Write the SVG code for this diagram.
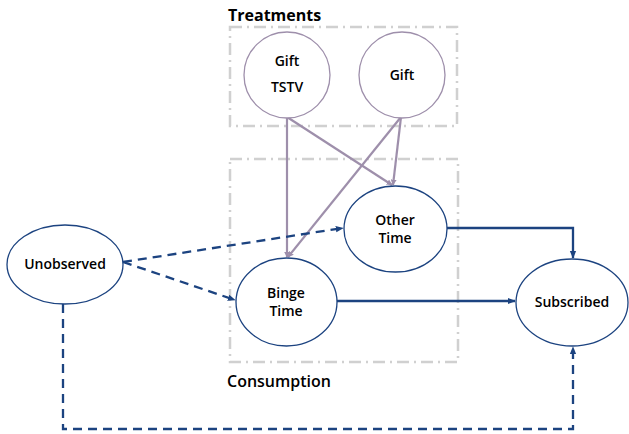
<svg xmlns="http://www.w3.org/2000/svg" width="629" height="434" viewBox="0 0 629 434">
<defs>
<marker id="ap" viewBox="0 0 10 10" refX="9" refY="5" markerWidth="6" markerHeight="6" markerUnits="userSpaceOnUse" orient="auto"><path d="M0,0 L10,5 L0,10 z" fill="#9e8fab"/></marker>
<marker id="an" viewBox="0 0 10 10" refX="9" refY="5" markerWidth="8" markerHeight="8" markerUnits="userSpaceOnUse" orient="auto"><path d="M0,1 L10,5 L0,9 z" fill="#1c4380"/></marker>
</defs>
<style>
.grp{fill:none;stroke:#d0d0d0;stroke-width:2.5;stroke-dasharray:12 5 2 5}
.tr{fill:#fff;stroke:#9e8fab;stroke-width:1.3}
.nd{fill:#fff;stroke:#1c4380;stroke-width:1.3}
.t{font-family:"Open Sans","DejaVu Sans",sans-serif;font-size:14px;font-weight:600;fill:#000;text-anchor:middle}
.h{font-family:"Open Sans","DejaVu Sans",sans-serif;font-size:16px;fill:#000}
.pe{fill:none;stroke:#9e8fab;stroke-width:2.2;marker-end:url(#ap)}
.ne{fill:none;stroke:#1c4380;stroke-width:2.3;marker-end:url(#an)}
.de{stroke-dasharray:9 6}
</style>
<g id="treatments-group">
<rect class="grp" x="230" y="27" width="227" height="99"/>
<text class="h" x="228" y="21" font-weight="700">Treatments</text>
</g>
<g id="consumption-group">
<rect class="grp" x="230" y="159" width="228" height="203"/>
<text class="h" x="227" y="387" font-weight="600">Consumption</text>
</g>
<g id="connectors">
<line class="pe" x1="287" y1="117" x2="287" y2="257"/>
<line class="pe" x1="287" y1="117" x2="392" y2="185"/>
<line class="pe" x1="401" y1="117" x2="288" y2="257"/>
<line class="pe" x1="401" y1="117" x2="393" y2="185"/>
<line class="ne de" x1="123" y1="262" x2="343" y2="228"/>
<line class="ne de" x1="123" y1="262" x2="235" y2="300"/>
<polyline class="ne" points="447,228 573,228 573,258"/>
<line class="ne" x1="337" y1="301" x2="515" y2="301"/>
<polyline class="ne de" points="63,304 63,429 573,429 573,347"/>
</g>
<g id="gift-tstv">
<circle class="tr" cx="287" cy="75" r="43"/>
<text class="t" x="287" y="66">Gift</text>
<text class="t" x="287" y="92">TSTV</text>
</g>
<g id="gift">
<circle class="tr" cx="402" cy="75" r="43"/>
<text class="t" x="402" y="80">Gift</text>
</g>
<g id="other-time">
<ellipse class="nd" cx="395.5" cy="229" rx="51.5" ry="43"/>
<text class="t" x="395" y="225">Other</text>
<text class="t" x="395" y="243">Time</text>
</g>
<g id="binge-time">
<ellipse class="nd" cx="286.5" cy="302" rx="50.5" ry="44"/>
<text class="t" x="286" y="298">Binge</text>
<text class="t" x="286" y="316">Time</text>
</g>
<g id="unobserved">
<ellipse class="nd" cx="65" cy="264.5" rx="58" ry="39.5"/>
<text class="t" x="65" y="269" font-weight="500">Unobserved</text>
</g>
<g id="subscribed">
<ellipse class="nd" cx="572" cy="302.5" rx="56" ry="43.5"/>
<text class="t" x="572" y="307" font-weight="500">Subscribed</text>
</g>
</svg>
